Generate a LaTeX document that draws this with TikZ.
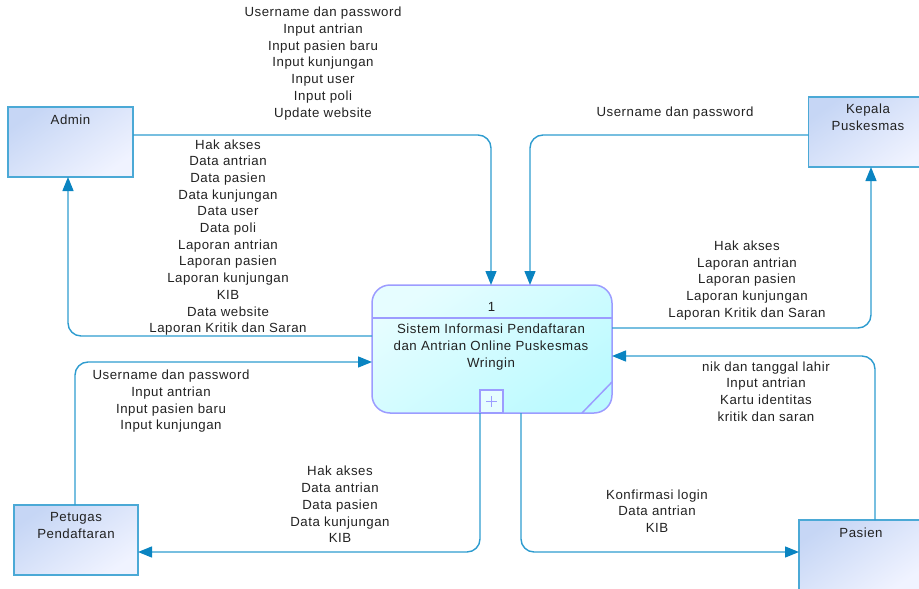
\documentclass[tikz,border=0pt]{standalone}
\usepackage{fontspec}
\setmainfont[LetterSpace=4]{Liberation Sans}
\usetikzlibrary{arrows.meta}
\definecolor{flow}{HTML}{2E9CCF}
\definecolor{tip}{HTML}{0A84C1}
\definecolor{edge}{HTML}{4BA9D6}
\definecolor{procedge}{HTML}{9C9CFF}
\definecolor{txt}{HTML}{222222}
\definecolor{entA}{HTML}{C6D6F5}
\definecolor{entB}{HTML}{F0F3FF}
\definecolor{procA}{HTML}{E6FDFF}
\definecolor{procB}{HTML}{BCFAFF}
\tikzset{
  ent/.style={draw=edge,line width=1.5pt,shading=axis,top color=entA,bottom color=entB,shading angle=35,minimum width=#1,minimum height=70pt,inner sep=0pt,outer sep=0pt},
  lab/.style={font=\fontsize{13.25}{16.7}\selectfont,text=txt,align=center,inner sep=0pt},
  flowline/.style={draw=flow,line width=1.4pt,rounded corners=13pt,-{Triangle[length=14pt,width=11pt,color=tip,fill=tip]}},
  proc/.style={draw=procedge,line width=1.5pt,rounded corners=18pt,shading=axis,top color=procA,bottom color=procB,shading angle=35,minimum width=240pt,minimum height=128pt,inner sep=0pt,outer sep=0pt},
  procline/.style={draw=procedge,line width=1.5pt}
}
\begin{document}
\begin{tikzpicture}[x=1pt,y=-1pt]
\useasboundingbox (0,0) rectangle (919,589);
\clip (0,0) rectangle (919,589);
\node[ent=125pt] (admin) at (70.5,142) {};
\node[ent=125pt] (kepala) at (871,132) {};
\node[ent=124pt] (petugas) at (76,540) {};
\node[ent=125pt] (pasien) at (861.5,555) {};
\node[proc] (sys) at (492,349) {};
\node[draw=procedge,line width=1.5pt,minimum width=23pt,minimum height=23pt,inner sep=0pt,outer sep=0pt,fill=procA] (plus) at (491.5,401.5) {};
\draw[procline] (sys.west |- 0,318) -- (sys.east |- 0,318);
\draw[procline] (582,413) -- (612,382);
\draw[draw=procedge,line width=1.2pt] (486,401.5) -- (497,401.5) (491.5,396) -- (491.5,407);

\node[lab] (n1) at (491.5,307) {1};
\node[lab] (systext) at (491,347) {Sistem Informasi Pendaftaran\\dan Antrian Online Puskesmas\\Wringin};
\node[lab] (tadmin) at (70.5,119.5) {Admin};
\node[lab] (tkepala) at (868,117) {Kepala\\Puskesmas};
\node[lab] (tpetugas) at (76,525.5) {Petugas\\Pendaftaran};
\node[lab] (tpasien) at (861,533) {Pasien};

\coordinate (a1) at (491,135);
\coordinate (a2) at (530,135);
\coordinate (a3) at (68,336);
\coordinate (a4) at (871,328);
\coordinate (a5) at (75,362);
\coordinate (a6) at (480,552);
\coordinate (a7) at (521,552);
\coordinate (a8) at (875,356);

\draw[flowline] (admin.east |- a1) -- (a1) -- (a1 |- sys.north);
\draw[flowline] (kepala.west |- a2) -- (a2) -- (a2 |- sys.north);
\draw[flowline] (sys.west |- a3) -- (a3) -- (a3 |- admin.south);
\draw[flowline] (sys.east |- a4) -- (a4) -- (a4 |- kepala.south);
\draw[flowline] (a5 |- petugas.north) -- (a5) -- (a5 -| sys.west);
\draw[flowline] (a6 |- sys.south) -- (a6) -- (a6 -| petugas.east);
\draw[flowline] (a7 |- sys.south) -- (a7) -- (a7 -| pasien.west);
\draw[flowline] (a8 |- pasien.north) -- (a8) -- (a8 -| sys.east);

\node[lab] (l1) at (323,63.5) {Username dan password\\Input antrian\\Input pasien baru\\Input kunjungan\\Input user\\Input poli\\Update website};
\node[lab] (l2) at (675,113.5) {Username dan password};
\node[lab] (l3) at (228,237.5) {Hak akses\\Data antrian\\Data pasien\\Data kunjungan\\Data user\\Data poli\\Laporan antrian\\Laporan pasien\\Laporan kunjungan\\KIB\\Data website\\Laporan Kritik dan Saran};
\node[lab] (l4) at (747,280.5) {Hak akses\\Laporan antrian\\Laporan pasien\\Laporan kunjungan\\Laporan Kritik dan Saran};
\node[lab] (l5) at (171,401.5) {Username dan password\\Input antrian\\Input pasien baru\\Input kunjungan};
\node[lab] (l6) at (766,391.5) {nik dan tanggal lahir\\Input antrian\\Kartu identitas\\kritik dan saran};
\node[lab] (l7) at (340,504.5) {Hak akses\\Data antrian\\Data pasien\\Data kunjungan\\KIB};
\node[lab] (l8) at (657,511) {Konfirmasi login\\Data antrian\\KIB};
\end{tikzpicture}
\end{document}
